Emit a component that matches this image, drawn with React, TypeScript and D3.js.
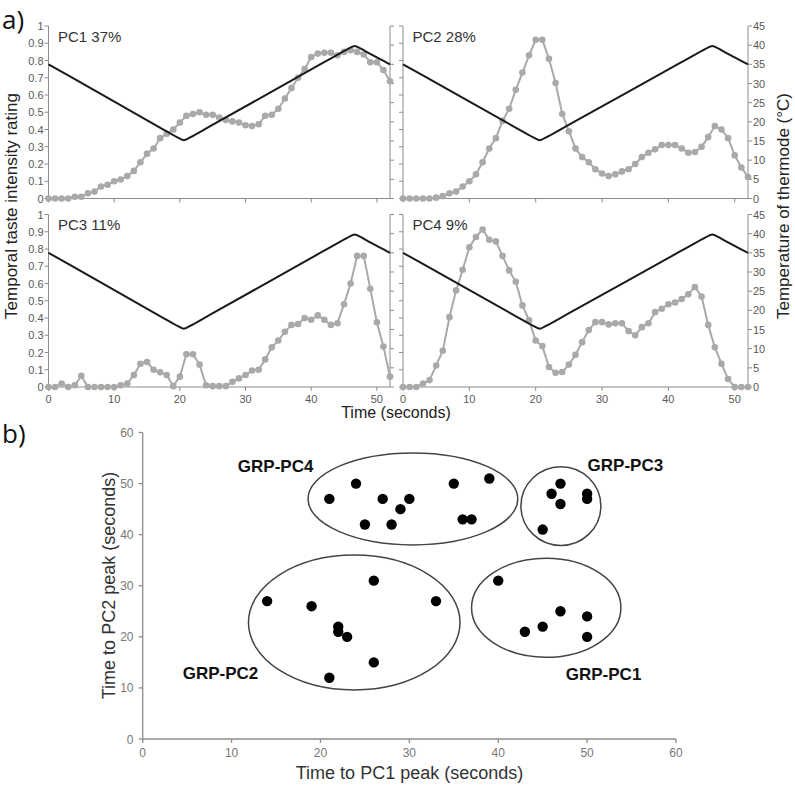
import React from 'react';
import * as d3 from 'd3';

// ---------- Part a) data ----------
const TIME = d3.range(0, 53); // seconds, one sample per second
const PC1 = [0, 0, 0, 0, 0.01, 0.01, 0.03, 0.04, 0.07, 0.08, 0.1, 0.11, 0.13, 0.16, 0.21, 0.26, 0.29, 0.35, 0.375, 0.4, 0.44, 0.48, 0.49, 0.5, 0.485, 0.485, 0.47, 0.455, 0.447, 0.44, 0.425, 0.42, 0.43, 0.48, 0.485, 0.52, 0.58, 0.64, 0.7, 0.75, 0.82, 0.84, 0.845, 0.845, 0.83, 0.85, 0.86, 0.85, 0.835, 0.79, 0.79, 0.745, 0.68];
const PC2 = [0, 0, 0, 0, 0, 0.005, 0.014, 0.03, 0.04, 0.07, 0.1, 0.14, 0.21, 0.29, 0.35, 0.45, 0.52, 0.63, 0.73, 0.83, 0.92, 0.92, 0.81, 0.67, 0.49, 0.39, 0.29, 0.24, 0.21, 0.17, 0.145, 0.13, 0.14, 0.157, 0.17, 0.2, 0.24, 0.265, 0.285, 0.31, 0.31, 0.31, 0.29, 0.265, 0.27, 0.3, 0.356, 0.42, 0.4, 0.35, 0.25, 0.18, 0.125];
const PC3 = [0, 0, 0.02, 0, 0.01, 0.065, 0, 0, 0, 0, 0, 0.01, 0.02, 0.07, 0.135, 0.145, 0.1, 0.085, 0.07, 0.005, 0.06, 0.19, 0.19, 0.13, 0.01, 0.005, 0.005, 0.005, 0.03, 0.05, 0.07, 0.095, 0.1, 0.16, 0.23, 0.27, 0.32, 0.36, 0.365, 0.4, 0.39, 0.415, 0.39, 0.36, 0.37, 0.48, 0.6, 0.76, 0.76, 0.57, 0.375, 0.235, 0.06];
const PC4 = [0, 0, 0, 0.02, 0.04, 0.125, 0.21, 0.405, 0.56, 0.68, 0.81, 0.87, 0.913, 0.853, 0.844, 0.76, 0.676, 0.61, 0.473, 0.386, 0.27, 0.237, 0.116, 0.083, 0.087, 0.13, 0.187, 0.26, 0.33, 0.376, 0.376, 0.363, 0.37, 0.37, 0.324, 0.3, 0.347, 0.37, 0.434, 0.454, 0.48, 0.49, 0.51, 0.537, 0.58, 0.525, 0.36, 0.23, 0.135, 0.046, 0, 0, 0];
const PANEL_TITLES = ['PC1 37%', 'PC2 28%', 'PC3 11%', 'PC4 9%'];

// thermode temperature profile (°C) knots
const TEMP_T = [0, 19.6, 20.6, 21.6, 45.6, 46.6, 47.6, 52];
const TEMP_C = [35, 16, 14.8, 16, 39, 40.2, 39, 35];

const RATING_TICKS = [0, 0.1, 0.2, 0.3, 0.4, 0.5, 0.6, 0.7, 0.8, 0.9, 1];
const TEMP_TICKS = [0, 5, 10, 15, 20, 25, 30, 35, 40, 45];
const TIME_TICKS = [0, 10, 20, 30, 40, 50];

// ---------- Part b) data ----------
const PC1_PEAK = [21, 24, 27, 25, 28, 29, 30, 35, 39, 36, 37, 47, 46, 47, 50, 50, 45, 40, 47, 45, 43, 50, 50, 33, 26, 14, 19, 22, 22, 23, 26, 21];
const PC2_PEAK = [47, 50, 47, 42, 42, 45, 47, 50, 51, 43, 43, 50, 48, 46, 48, 47, 41, 31, 25, 22, 21, 24, 20, 27, 31, 27, 26, 22, 21, 20, 15, 12];
const GROUP_NAMES = ['GRP-PC4', 'GRP-PC3', 'GRP-PC1', 'GRP-PC2'];
const GROUP_CX = [30.4, 47.05, 45.4, 23.8];
const GROUP_CY = [47, 45.6, 25.7, 22.8];
const GROUP_RX = [11.8, 4.5, 8.4, 11.9];
const GROUP_RY = [9, 7.7, 9.7, 13.2];
const GROUP_LABEL_X = [10.7, 50.05, 47.6, 4.5];
const GROUP_LABEL_Y = [52.3, 52.5, 11.6, 11.8];
const PEAK_TICKS = [0, 10, 20, 30, 40, 50, 60];

const FONT = 'Liberation Sans, Arial, sans-serif';
const AXIS = '#8c8c8c';
const LABEL = '#595959';
const GRAY = '#a9a9a9';

type PanelDef = { data: number[]; title: string; x0: number; x1: number; yTop: number; yBot: number; left: boolean; top: boolean };

function Panel({ p }: { p: PanelDef }) {
  const x = d3.scaleLinear().domain([0, 52]).range([p.x0, p.x1]);
  const y = d3.scaleLinear().domain([0, 1]).range([p.yBot, p.yTop]);
  const yT = d3.scaleLinear().domain([0, 45]).range([p.yBot, p.yTop]);
  const line = d3.line<number>().x((_, i) => x(TIME[i])).y((d) => y(d));
  const tline = d3.line<number>().x((t) => x(t)).y((_, i) => yT(TEMP_C[i])).curve(d3.curveBasis);
  return (
    <g>
      {/* axes */}
      <line x1={p.x0} x2={p.x0} y1={p.yBot} y2={p.yTop} stroke={AXIS} strokeWidth={1} />
      <line x1={p.x1} x2={p.x1} y1={p.yBot} y2={p.yTop} stroke={AXIS} strokeWidth={1} />
      <line x1={p.x0} x2={p.x1} y1={p.yBot} y2={p.yBot} stroke={AXIS} strokeWidth={1} />
      {RATING_TICKS.map((v) => (
        <g key={'l' + v}>
          <line x1={p.x0 - 4} x2={p.x0} y1={y(v)} y2={y(v)} stroke={AXIS} />
          {p.left && (
            <text x={p.x0 - 5} y={y(v) + 4} textAnchor="end" fontSize={11} fill={LABEL} fontFamily={FONT}>{String(v)}</text>
          )}
        </g>
      ))}
      {TEMP_TICKS.map((v) => (
        <g key={'r' + v}>
          <line x1={p.x1} x2={p.x1 + 4} y1={yT(v)} y2={yT(v)} stroke={AXIS} />
          {!p.left && (
            <text x={p.x1 + 5} y={yT(v) + 4} textAnchor="start" fontSize={11} fill={LABEL} fontFamily={FONT}>{String(v)}</text>
          )}
        </g>
      ))}
      {TIME_TICKS.map((v) => (
        <g key={'b' + v}>
          <line x1={x(v)} x2={x(v)} y1={p.yBot} y2={p.yBot + 4} stroke={AXIS} />
          {!p.top && (
            <text x={x(v)} y={p.yBot + 16} textAnchor="middle" fontSize={11} fill={LABEL} fontFamily={FONT}>{String(v)}</text>
          )}
        </g>
      ))}
      {/* rating series */}
      <path d={line(p.data) || ''} fill="none" stroke={GRAY} strokeWidth={2} />
      {p.data.map((d, i) => (
        <circle key={i} cx={x(TIME[i])} cy={y(d)} r={3.3} fill={GRAY} />
      ))}
      {/* temperature */}
      <path d={tline(TEMP_T) || ''} fill="none" stroke="#1a1a1a" strokeWidth={2} />
      <text x={p.x0 + 9.5} y={p.yTop + 15.5} fontSize={15} fill="#333" fontFamily={FONT}>{p.title}</text>
    </g>
  );
}

function Scatter() {
  const x = d3.scaleLinear().domain([0, 60]).range([142.7, 676]);
  const y = d3.scaleLinear().domain([0, 60]).range([739, 432.5]);
  const kx = x(1) - x(0);
  const ky = y(0) - y(1);
  return (
    <g>
      <line x1={x(0)} x2={x(60)} y1={y(0)} y2={y(0)} stroke={AXIS} strokeWidth={1.3} />
      <line x1={x(0)} x2={x(0)} y1={y(0)} y2={y(60)} stroke={AXIS} strokeWidth={1.3} />
      {PEAK_TICKS.map((v) => (
        <g key={'x' + v}>
          <line x1={x(v)} x2={x(v)} y1={y(0)} y2={y(0) + 4} stroke={AXIS} strokeWidth={1.3} />
          <text x={x(v)} y={757} textAnchor="middle" fontSize={12} fill="#777" fontFamily={FONT}>{String(v)}</text>
        </g>
      ))}
      {PEAK_TICKS.map((v) => (
        <g key={'y' + v}>
          <line x1={x(0) - 4} x2={x(0)} y1={y(v)} y2={y(v)} stroke={AXIS} strokeWidth={1.3} />
          <text x={133.5} y={y(v) + 4.5} textAnchor="end" fontSize={12} fill="#777" fontFamily={FONT}>{String(v)}</text>
        </g>
      ))}
      {GROUP_NAMES.map((n, i) => (
        <g key={n}>
          <ellipse cx={x(GROUP_CX[i])} cy={y(GROUP_CY[i])} rx={GROUP_RX[i] * kx} ry={GROUP_RY[i] * ky} fill="none" stroke="#444" strokeWidth={1.5} />
          <text x={x(GROUP_LABEL_X[i])} y={y(GROUP_LABEL_Y[i])} fontSize={17} fontWeight="bold" fill="#111" fontFamily={FONT}>{n}</text>
        </g>
      ))}
      {PC1_PEAK.map((v, i) => (
        <circle key={i} cx={x(v)} cy={y(PC2_PEAK[i])} r={5.2} fill="#000" />
      ))}
      <text x={409.5} y={779} textAnchor="middle" fontSize={18} fill="#333" fontFamily={FONT}>Time to PC1 peak (seconds)</text>
      <text transform="translate(114.5,585.5) rotate(-90)" textAnchor="middle" fontSize={18} fill="#333" fontFamily={FONT}>Time to PC2 peak (seconds)</text>
    </g>
  );
}

export default function App() {
  const panels: PanelDef[] = [
    { data: PC1, title: PANEL_TITLES[0], x0: 48.5, x1: 390, yTop: 26, yBot: 198.5, left: true, top: true },
    { data: PC2, title: PANEL_TITLES[1], x0: 403, x1: 748, yTop: 26, yBot: 198.5, left: false, top: true },
    { data: PC3, title: PANEL_TITLES[2], x0: 48.5, x1: 390, yTop: 214.5, yBot: 387, left: true, top: false },
    { data: PC4, title: PANEL_TITLES[3], x0: 403, x1: 748, yTop: 214.5, yBot: 387, left: false, top: false },
  ];
  return (
    <svg width={795} height={785} style={{ position: 'absolute', left: 0, top: 0, background: '#fff' }}>
      <rect width={795} height={785} fill="#fff" />
      <text x={2} y={29} fontSize={26} fill="#111" fontFamily="Open Sans, sans-serif">a)</text>
      <text x={2} y={443} fontSize={26} fill="#111" fontFamily="Open Sans, sans-serif">b)</text>
      {panels.map((p, i) => (
        <Panel key={i} p={p} />
      ))}
      <text x={396} y={418} textAnchor="middle" fontSize={16} fill="#222" fontFamily={FONT}>Time (seconds)</text>
      <text transform="translate(17,206) rotate(-90)" textAnchor="middle" fontSize={17} fill="#222" fontFamily={FONT}>Temporal taste intensity rating</text>
      <text transform="translate(789,206) rotate(-90)" textAnchor="middle" fontSize={17} fill="#222" fontFamily={FONT}>Temperature of thermode (°C)</text>
      <Scatter />
    </svg>
  );
}
